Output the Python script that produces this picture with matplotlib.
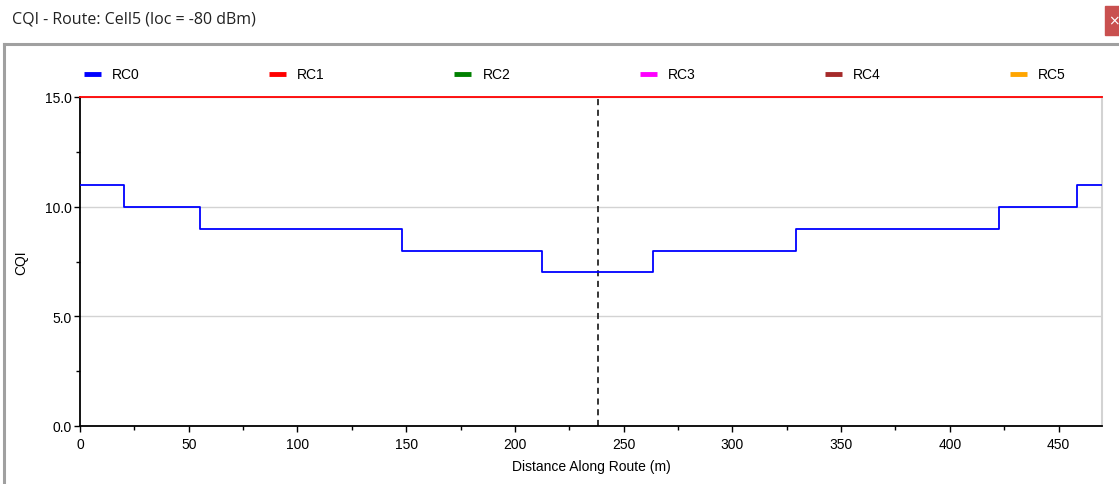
import numpy as np
import matplotlib
matplotlib.use('Agg')
import matplotlib.pyplot as plt
from matplotlib.lines import Line2D
from matplotlib.patches import Rectangle
from matplotlib.ticker import MultipleLocator, FormatStrFormatter

plt.rcParams['font.family'] = ['Liberation Sans', 'DejaVu Sans']

# datos
series = ['RC0', 'RC1', 'RC2', 'RC3', 'RC4', 'RC5']
colores = ['#0000ff', '#ff0000', '#008000', '#ff00ff', '#a52a2a', '#ffa500']

rc0_x = [0, 20.2, 55.2, 148.0, 212.4, 263.7, 329.3, 422.5, 458.6, 470]
rc0_y = [11, 10, 9, 8, 7, 8, 9, 10, 11, 11]

rc1_x = [0, 470]
rc1_y = [15, 15]

cursor_x = 238
titulo = "CQI - Route: Cell5 (loc = -80 dBm)"

W, H = 1119, 485
fig = plt.figure(figsize=(W / 100, H / 100), dpi=100)
fig.patch.set_facecolor('white')

def px(x, y):
    return x / W, 1 - y / H

# ventana
fig.text(*px(12, 20), titulo, fontsize=11.5, family=['Open Sans', 'DejaVu Sans'],
         va='center', ha='left', color='#222222')
fig.add_artist(Line2D([4 / W, 1], [1 - 45 / H, 1 - 45 / H], color='#a0a0a0', lw=2.2))
fig.add_artist(Line2D([4 / W, 4 / W], [0, 1 - 45 / H], color='#a0a0a0', lw=2.2))
fig.add_artist(Rectangle(px(1105, 36), 14 / W, 29 / H, color='#c9504f'))
fig.text(*px(1114, 21), "×", color='white', fontsize=10, ha='center', va='center',
         family='DejaVu Sans')

x0, x1, ytop, ybot = 80, 1102, 98, 427
ax = fig.add_axes([x0 / W, 1 - ybot / H, (x1 - x0) / W, (ybot - ytop) / H])

ax.plot(rc0_x, rc0_y, drawstyle='steps-post', color=colores[0], lw=1.3, zorder=3)
ax.plot(rc1_x, rc1_y, color=colores[1], lw=1.3, clip_on=False, zorder=4)
ax.axvline(cursor_x, color='black', ls=(0, (4, 3)), lw=1.1, zorder=2)

ax.set_xlim(0, 470)
ax.set_ylim(0, 15)
ax.xaxis.set_major_locator(MultipleLocator(50))
ax.xaxis.set_minor_locator(MultipleLocator(25))
ax.yaxis.set_major_locator(MultipleLocator(5))
ax.yaxis.set_minor_locator(MultipleLocator(2.5))
ax.yaxis.set_major_formatter(FormatStrFormatter('%.1f'))
ax.tick_params(which='major', length=4, width=1, labelsize=10, colors='black')
ax.tick_params(axis='x', which='major', pad=4)
ax.tick_params(axis='y', which='major', pad=2)
ax.tick_params(which='minor', length=3, width=1)
ax.grid(axis='y', which='major', color='#d3d3d3', lw=1)
ax.set_axisbelow(True)

ax.spines['top'].set_visible(False)
ax.spines['right'].set_color('#d3d3d3')
ax.spines['right'].set_linewidth(1.5)
for s in ['left', 'bottom']:
    ax.spines[s].set_color('black')
    ax.spines[s].set_linewidth(1.3)

ax.set_xlabel("Distance Along Route (m)", fontsize=10, labelpad=6)
ax.set_ylabel("CQI", fontsize=10, labelpad=12)

# leyenda
for i, (nombre, c) in enumerate(zip(series, colores)):
    lx = 84 + i * 185.2
    fig.add_artist(Line2D([lx / W, (lx + 17) / W], [1 - 75 / H] * 2, color=c, lw=3.5,
                          solid_capstyle='butt'))
    fig.text(*px(lx + 28, 75), nombre, fontsize=10, va='center', ha='left')

fig.savefig('out.png', dpi=100)
